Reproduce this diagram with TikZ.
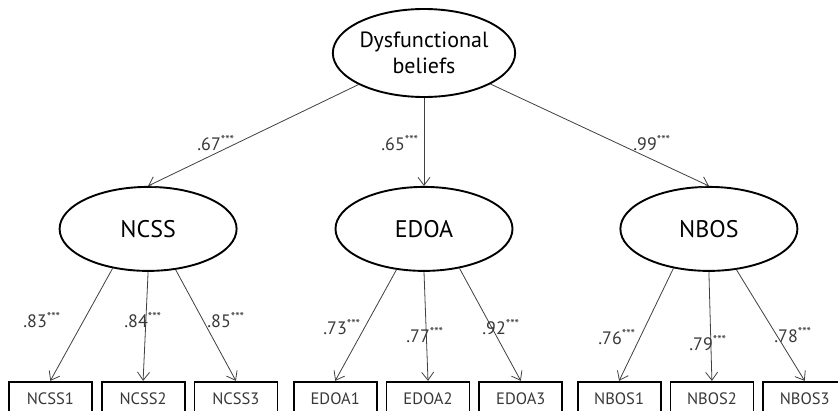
\documentclass[tikz,border=0pt]{standalone}
\usepackage{fontspec}
\setmainfont{PT Sans}
\usetikzlibrary{arrows.meta,positioning,shapes.geometric}
\definecolor{linegray}{HTML}{404040}
\definecolor{textgray}{HTML}{383838}

\begin{document}
\begin{tikzpicture}[x=1pt, y=-1pt,
  latent/.style={draw, ellipse, line width=1.9pt, minimum width=177pt, minimum height=84pt,
                 inner sep=0pt, font=\fontsize{24}{29}\selectfont},
  obs/.style={draw, rectangle, line width=1.8pt, minimum width=83pt, minimum height=34pt,
              inner sep=0pt, font=\fontsize{16.5}{19}\selectfont, text=textgray},
  arr/.style={-{Straight Barb[length=8pt,width=12pt]}, line width=0.8pt, linegray},
  coef/.style={font=\fontsize{18}{20}\selectfont, text=textgray, inner sep=0pt}
]
  \path[use as bounding box, fill=white] (0,0) rectangle (838,410);
  \clip (0,0) rectangle (838,410);

  % latent factors
  \node[latent, minimum width=178pt, minimum height=88pt, align=center,
        font=\fontsize{22}{26}\selectfont] (dys) at (424,53) {Dysfunctional\\beliefs};
  \node[latent, below=88pt of dys] (edoa) {EDOA};
  \node[latent, left=97pt of edoa] (ncss) {NCSS};
  \node[latent, right=106pt of edoa] (nbos) {NBOS};

  % indicators
  \node[obs, below=109pt of ncss, xshift=-5pt] (ncss2) {NCSS2};
  \node[obs, left=8pt of ncss2] (ncss1) {NCSS1};
  \node[obs, right=8pt of ncss2] (ncss3) {NCSS3};
  \node[obs, below=109pt of edoa, xshift=4pt] (edoa2) {EDOA2};
  \node[obs, left=8pt of edoa2] (edoa1) {EDOA1};
  \node[obs, right=8pt of edoa2] (edoa3) {EDOA3};
  \node[obs, below=109pt of nbos, xshift=3pt] (nbos2) {NBOS2};
  \node[obs, left=8pt of nbos2] (nbos1) {NBOS1};
  \node[obs, right=8pt of nbos2] (nbos3) {NBOS3};

  % paths
  \draw[arr] (dys) -- (ncss.north);
  \draw[arr] (dys) -- (edoa.north);
  \draw[arr] (dys) -- (nbos.north);
  \draw[arr] (ncss.228) -- (ncss1.north);
  \draw[arr] (ncss.south) -- (ncss2.north);
  \draw[arr] (ncss.304) -- (ncss3.north);
  \draw[arr] (edoa.236) -- (edoa1.north);
  \draw[arr] (edoa.south) -- (edoa2.north);
  \draw[arr] (edoa.312) -- (edoa3.north);
  \draw[arr] (nbos.228) -- (nbos1.north);
  \draw[arr] (nbos.south) -- (nbos2.north);
  \draw[arr] (nbos.304) -- (nbos3.north);

  % loadings
  \node[coef] (c67) at (216,143) {.67\textsuperscript{***}};
  \node[coef] (c65) at (400,143) {.65\textsuperscript{***}};
  \node[coef] (c99) at (652,143) {.99\textsuperscript{***}};
  \node[coef] (c83) at (42,320) {.83\textsuperscript{***}};
  \node[coef] (c84) at (143,320) {.84\textsuperscript{***}};
  \node[coef] (c85) at (226,320) {.85\textsuperscript{***}};
  \node[coef] (c73) at (342,327) {.73\textsuperscript{***}};
  \node[coef] (c77) at (425,335) {.77\textsuperscript{***}};
  \node[coef] (c92) at (501,327) {.92\textsuperscript{***}};
  \node[coef] (c76) at (617,337) {.76\textsuperscript{***}};
  \node[coef] (c79) at (708,343) {.79\textsuperscript{***}};
  \node[coef] (c78) at (793,335) {.78\textsuperscript{***}};
\end{tikzpicture}
\end{document}
